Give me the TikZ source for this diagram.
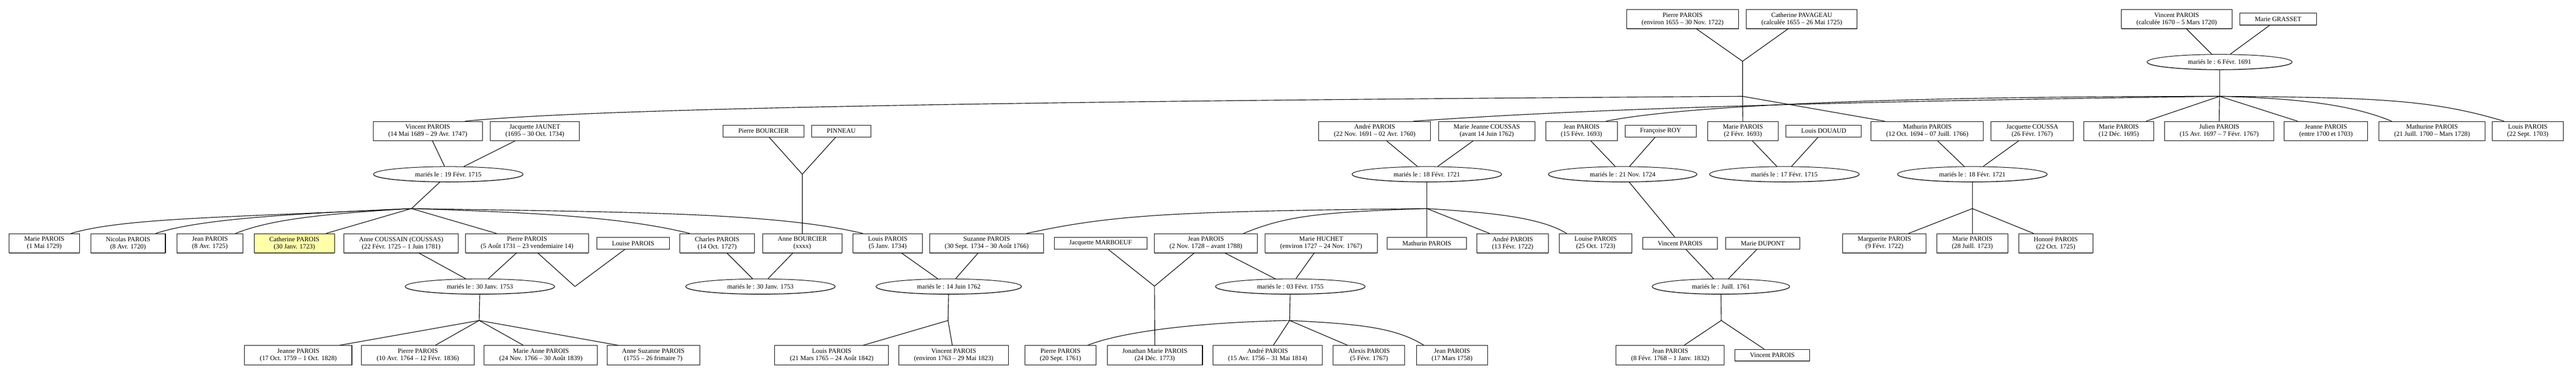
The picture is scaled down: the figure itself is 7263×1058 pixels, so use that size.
\documentclass[tikz,border=0pt]{standalone}
\usepackage{fontspec}
\setmainfont{Liberation Serif}
\usetikzlibrary{shapes.geometric,shadows}
\definecolor{amarillo}{HTML}{FFFFAA}
\tikzset{
  indiv/.style={draw, rectangle, fill=white, line width=0.8pt, align=center,
    font=\fontsize{10}{11}\selectfont, inner xsep=23pt, inner ysep=1pt,
    minimum height=29.2pt,
    drop shadow={shadow xshift=0pt, shadow yshift=-0.9pt, fill=gray, opacity=1}},
  solo/.style={indiv, minimum height=17.8pt},
  boda/.style={draw, ellipse, fill=white, line width=0.8pt,
    font=\fontsize{10}{11}\selectfont, inner xsep=30pt, inner ysep=0pt,
    minimum height=23.2pt,
    drop shadow={shadow xshift=0pt, shadow yshift=-0.9pt, fill=gray, opacity=1}},
  lazo/.style={line width=0.9pt}
}
\begin{document}
\begin{tikzpicture}[x=0.54pt,y=0.54pt]
      \useasboundingbox (0,0) rectangle (7263,-1058);

      % Primera generacion
      \node[indiv] (pierre55) at (4744,-54) {Pierre PAROIS\\(environ 1655 – 30 Nov. 1722)};
      \node[indiv] (catherinePv) at (5080,-54) {Catherine PAVAGEAU\\(calculée 1655 – 26 Mai 1725)};
      \node[indiv] (vincent70) at (6137,-54) {Vincent PAROIS\\(calculée 1670 – 5 Mars 1720)};
      \node[solo] (marieGr) at (6423,-54) {Marie GRASSET};
      \node[boda] (m1691) at (6258,-175) {mariés le : 6 Févr. 1691};
      \coordinate (y1655) at (4913,-173);
      \coordinate (r1655) at (4913,-272);
      \coordinate (r1691) at (6258,-272);

      % Segunda generacion
      \node[indiv] (vincent89) at (1206,-370) {Vincent PAROIS\\(14 Mai 1689 – 29 Avr. 1747)};
      \node[indiv] (jacquetteJ) at (1508,-370) {Jacquette JAUNET\\(1695 – 30 Oct. 1734)};
      \node[solo] (pierreB) at (2153,-370) {Pierre BOURCIER};
      \node[solo] (pinneau) at (2372,-370) {PINNEAU};
      \node[indiv] (andre91) at (3876,-370) {André PAROIS\\(22 Nov. 1691 – 02 Avr. 1760)};
      \node[indiv] (marieJC) at (4192,-370) {Marie Jeanne COUSSAS\\(avant 14 Juin 1762)};
      \node[indiv] (jean93) at (4459,-370) {Jean PAROIS\\(15 Févr. 1693)};
      \node[solo] (francoise) at (4682,-370) {Françoise ROY};
      \node[indiv] (marie93) at (4914,-370) {Marie PAROIS\\(2 Févr. 1693)};
      \node[solo] (louisD) at (5142,-370) {Louis DOUAUD};
      \node[indiv] (mathurin94) at (5434,-370) {Mathurin PAROIS\\(12 Oct. 1694 – 07 Juill. 1766)};
      \node[indiv] (jacquetteC) at (5730,-370) {Jacquette COUSSA\\(26 Févr. 1767)};
      \node[indiv] (marie95) at (5974,-370) {Marie PAROIS\\(12 Déc. 1695)};
      \node[indiv] (julien97) at (6257,-370) {Julien PAROIS\\(15 Avr. 1697 – 7 Févr. 1767)};
      \node[indiv] (jeanne00) at (6558,-370) {Jeanne PAROIS\\(entre 1700 et 1703)};
      \node[indiv] (mathurine00) at (6857,-370) {Mathurine PAROIS\\(21 Juill. 1700 – Mars 1728)};
      \node[indiv] (louis03) at (7127,-370) {Louis PAROIS\\(22 Sept. 1703)};

      \node[boda] (m1715a) at (1264,-492) {mariés le : 19 Févr. 1715};
      \coordinate (yBourcier) at (2262,-492);
      \node[boda] (m1721a) at (4023,-492) {mariés le : 18 Févr. 1721};
      \node[boda] (m1724) at (4575,-492) {mariés le : 21 Nov. 1724};
      \node[boda] (m1715b) at (5031,-492) {mariés le : 17 Févr. 1715};
      \node[boda] (m1721b) at (5561,-492) {mariés le : 18 Févr. 1721};
      \coordinate (r1715) at (1160,-589);
      \coordinate (r1721a) at (4023,-589);
      \coordinate (r1721b) at (5561,-589);

      % Tercera generacion
      \node[indiv] (marie29) at (125,-687) {Marie PAROIS\\(1 Mai 1729)};
      \node[indiv] (nicolas20) at (361,-687) {Nicolas PAROIS\\(8 Avr. 1720)};
      \node[indiv] (jean25) at (592,-687) {Jean PAROIS\\(8 Avr. 1725)};
      \node[indiv, fill=amarillo] (catherine23) at (830,-687) {Catherine PAROIS\\(30 Janv. 1723)};
      \node[indiv] (anneC) at (1131,-687) {Anne COUSSAIN (COUSSAS)\\(22 Févr. 1725 – 1 Juin 1781)};
      \node[indiv] (pierre31) at (1486,-687) {Pierre PAROIS\\(5 Août 1731 – 23 vendemiaire 14)};
      \node[solo] (louiseP) at (1785,-687) {Louise PAROIS};
      \node[indiv] (charles27) at (2022,-687) {Charles PAROIS\\(14 Oct. 1727)};
      \node[indiv] (anneB) at (2262,-687) {Anne BOURCIER\\(xxxx)};
      \node[indiv] (louis34) at (2503,-687) {Louis PAROIS\\(5 Janv. 1734)};
      \node[indiv] (suzanne34) at (2782,-687) {Suzanne PAROIS\\(30 Sept. 1734 – 30 Août 1766)};
      \node[solo] (jacquetteM) at (3103,-687) {Jacquette MARBOEUF};
      \node[indiv] (jean28) at (3400,-687) {Jean PAROIS\\(2 Nov. 1728 – avant 1788)};
      \node[indiv] (marieH) at (3725,-687) {Marie HUCHET\\(environ 1727 – 24 Nov. 1767)};
      \node[solo] (mathurinB) at (4023,-687) {Mathurin PAROIS};
      \node[indiv] (andre22) at (4265,-687) {André PAROIS\\(13 Févr. 1722)};
      \node[indiv] (louise23) at (4499,-687) {Louise PAROIS\\(25 Oct. 1723)};
      \node[solo] (vincentR) at (4737,-687) {Vincent PAROIS};
      \node[solo] (marieD) at (4970,-687) {Marie DUPONT};
      \node[indiv] (marguerite22) at (5313,-687) {Marguerite PAROIS\\(9 Févr. 1722)};
      \node[indiv] (marie23) at (5561,-687) {Marie PAROIS\\(28 Juill. 1723)};
      \node[indiv] (honore25) at (5796,-687) {Honoré PAROIS\\(22 Oct. 1725)};

      \node[boda] (m1753a) at (1353,-809) {mariés le : 30 Janv. 1753};
      \coordinate (yLouise) at (1621,-809);
      \node[boda] (m1753b) at (2144,-809) {mariés le : 30 Janv. 1753};
      \node[boda] (m1762) at (2675,-809) {mariés le : 14 Juin 1762};
      \coordinate (yMarboeuf) at (3255,-808);
      \node[boda] (m1755) at (3638,-809) {mariés le : 03 Févr. 1755};
      \node[boda] (m1761) at (4852,-809) {mariés le : Juill. 1761};
      \coordinate (r1753) at (1351,-905);
      \coordinate (r1762) at (2673,-905);
      \coordinate (r1755) at (3636,-905);
      \coordinate (r1761) at (4853,-905);

      % Cuarta generacion
      \node[indiv] (jeanne59) at (841,-1003) {Jeanne PAROIS\\(17 Oct. 1759 – 1 Oct. 1828)};
      \node[indiv] (pierre64) at (1178,-1003) {Pierre PAROIS\\(10 Avr. 1764 – 12 Févr. 1836)};
      \node[indiv] (marieAnne66) at (1525,-1003) {Marie Anne PAROIS\\(24 Nov. 1766 – 30 Août 1839)};
      \node[indiv] (anneSuzanne55) at (1842,-1003) {Anne Suzanne PAROIS\\(1755 – 26 frimaire 7)};
      \node[indiv] (louis65) at (2345,-1003) {Louis PAROIS\\(21 Mars 1765 – 24 Août 1842)};
      \node[indiv] (vincent63) at (2689,-1003) {Vincent PAROIS\\(environ 1763 – 29 Mai 1823)};
      \node[indiv] (pierre61) at (2990,-1003) {Pierre PAROIS\\(20 Sept. 1761)};
      \node[indiv] (jonathan73) at (3256,-1003) {Jonathan Marie PAROIS\\(24 Déc. 1773)};
      \node[indiv] (andre56) at (3574,-1003) {André PAROIS\\(15 Avr. 1756 – 31 Mai 1814)};
      \node[indiv] (alexis67) at (3860,-1003) {Alexis PAROIS\\(5 Févr. 1767)};
      \node[indiv] (jean58) at (4094,-1003) {Jean PAROIS\\(17 Mars 1758)};
      \node[indiv] (jean68) at (4709,-1003) {Jean PAROIS\\(8 Févr. 1768 – 1 Janv. 1832)};
      \node[solo] (vincentB) at (4997,-1003) {Vincent PAROIS};

      % Parejas de la primera generacion
      \draw[lazo] (pierre55) -- (y1655);
      \draw[lazo] (catherinePv) -- (y1655) -- (r1655);
      \draw[lazo] (vincent70) -- (m1691);
      \draw[lazo] (marieGr) -- (m1691);
      \draw[lazo] (m1691) -- (r1691);

      % Hijos de Pierre y Catherine
      \draw[lazo] (r1655) .. controls +(-1800,-12) and +(400,40) .. (vincent89.north -| 1311,0);
      \draw[lazo] (r1655) -- (marie93.north);
      \draw[lazo] (r1655) -- (mathurin94.north -| 5314,0);

      % Hijos de Vincent y Marie GRASSET
      \draw[lazo] (r1691) .. controls +(-1500,-20) and +(300,20) .. (andre91.north -| 3985,0);
      \draw[lazo] (r1691) .. controls +(-1000,0) and +(200,40) .. (jean93.north -| 4528,0);
      \draw[lazo] (r1691) -- (marie95.north -| 6051,0);
      \draw[lazo] (r1691) -- (julien97.north);
      \draw[lazo] (r1691) -- (jeanne00.north -| 6478,0);
      \draw[lazo] (r1691) .. controls +(200,-5) and +(-120,50) .. (mathurine00.north -| 6743,0);
      \draw[lazo] (r1691) .. controls +(450,-3) and +(-200,60) .. (louis03.north -| 7060,0);

      % Parejas de la segunda generacion
      \draw[lazo] (vincent89) -- (m1715a);
      \draw[lazo] (jacquetteJ) -- (m1715a);
      \draw[lazo] (m1715a) -- (r1715);
      \draw[lazo] (pierreB) -- (yBourcier);
      \draw[lazo] (pinneau) -- (yBourcier) -- (anneB);
      \draw[lazo] (andre91) -- (m1721a);
      \draw[lazo] (marieJC) -- (m1721a);
      \draw[lazo] (m1721a) -- (r1721a);
      \draw[lazo] (jean93) -- (m1724);
      \draw[lazo] (francoise) -- (m1724);
      \draw[lazo] (m1724) -- (vincentR.north -| 4722,0);
      \draw[lazo] (marie93) -- (m1715b);
      \draw[lazo] (louisD) -- (m1715b);
      \draw[lazo] (mathurin94) -- (m1721b);
      \draw[lazo] (jacquetteC) -- (m1721b);
      \draw[lazo] (m1721b) -- (r1721b);

      % Hijos de Vincent y Jacquette JAUNET
      \draw[lazo] (r1715) .. controls +(-500,-25) and +(150,45) .. (marie29.north -| 200,0);
      \draw[lazo] (r1715) .. controls +(-350,-15) and +(120,40) .. (nicolas20.north -| 439,0);
      \draw[lazo] (r1715) .. controls +(-250,-15) and +(100,40) .. (jean25.north -| 664,0);
      \draw[lazo] (r1715) -- (catherine23.north -| 919,0);
      \draw[lazo] (r1715) -- (pierre31.north -| 1400,0);
      \draw[lazo] (r1715) .. controls +(300,-10) and +(-200,50) .. (charles27.north -| 1945,0);
      \draw[lazo] (r1715) .. controls +(600,-10) and +(-250,60) .. (louis34.north -| 2433,0);

      % Hijos de Andre y Marie Jeanne
      \draw[lazo] (r1721a) .. controls +(-700,-8) and +(250,55) .. (suzanne34.north -| 2894,0);
      \draw[lazo] (r1721a) .. controls +(-300,-10) and +(120,50) .. (jean28.north -| 3506,0);
      \draw[lazo] (r1721a) -- (mathurinB.north);
      \draw[lazo] (r1721a) -- (andre22.north -| 4200,0);
      \draw[lazo] (r1721a) .. controls +(150,-10) and +(-80,50) .. (louise23.north -| 4417,0);

      % Hijos de Mathurin y Jacquette COUSSA
      \draw[lazo] (r1721b) -- (marguerite22.north -| 5381,0);
      \draw[lazo] (r1721b) -- (marie23.north);
      \draw[lazo] (r1721b) -- (honore25.north -| 5734,0);

      % Parejas de la tercera generacion
      \draw[lazo] (anneC) -- (m1753a);
      \draw[lazo] (pierre31) -- (m1753a);
      \draw[lazo] (m1753a) -- (r1753);
      \draw[lazo] (pierre31) -- (yLouise);
      \draw[lazo] (louiseP) -- (yLouise);
      \draw[lazo] (charles27) -- (m1753b);
      \draw[lazo] (anneB) -- (m1753b);
      \draw[lazo] (louis34) -- (m1762);
      \draw[lazo] (suzanne34) -- (m1762);
      \draw[lazo] (m1762) -- (r1762);
      \draw[lazo] (jacquetteM) -- (yMarboeuf);
      \draw[lazo] (jean28) -- (yMarboeuf) -- (jonathan73);
      \draw[lazo] (jean28) -- (m1755);
      \draw[lazo] (marieH) -- (m1755);
      \draw[lazo] (m1755) -- (r1755);
      \draw[lazo] (vincentR) -- (m1761);
      \draw[lazo] (marieD) -- (m1761);
      \draw[lazo] (m1761) -- (r1761);

      % Hijos de la cuarta generacion
      \draw[lazo] (r1753) -- (jeanne59.north -| 956,0);
      \draw[lazo] (r1753) -- (pierre64.north -| 1227,0);
      \draw[lazo] (r1753) -- (marieAnne66.north -| 1476,0);
      \draw[lazo] (r1753) -- (anneSuzanne55.north -| 1744,0);
      \draw[lazo] (r1762) -- (louis65.north -| 2433,0);
      \draw[lazo] (r1762) -- (vincent63.north -| 2685,0);
      \draw[lazo] (r1755) .. controls +(-250,-5) and +(100,40) .. (pierre61.north -| 3066,0);
      \draw[lazo] (r1755) -- (andre56.north -| 3590,0);
      \draw[lazo] (r1755) -- (alexis67.north -| 3800,0);
      \draw[lazo] (r1755) .. controls +(200,-10) and +(-80,50) .. (jean58.north -| 4015,0);
      \draw[lazo] (r1761) -- (jean68.north -| 4748,0);
      \draw[lazo] (r1761) -- (vincentB.north -| 4974,0);
    \end{tikzpicture}
\end{document}
